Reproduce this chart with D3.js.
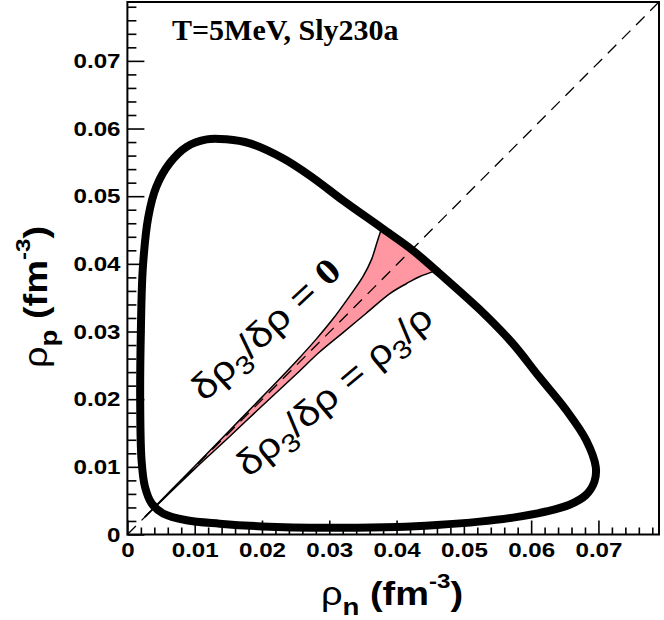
<!DOCTYPE html>
<html>
<head>
<meta charset="utf-8">
<script src="https://cdn.jsdelivr.net/npm/d3@7/dist/d3.min.js"></script>
<style>
  body { margin: 0; background: #fff; }
  #plot { width: 664px; height: 620px; }
</style>
</head>
<body>
<div id="plot"></div>
<script>
// spinodal contour at T=5 MeV, [rho_n, rho_p] in fm^-3
const spinodal = [
  [0.0118, 0.0584], [0.0147, 0.0584], [0.0182, 0.0578], [0.0231, 0.0556],
  [0.0276, 0.0527], [0.0320, 0.0494], [0.0378, 0.0453], [0.0424, 0.0420],
  [0.0459, 0.0390], [0.0474, 0.0377], [0.0523, 0.0333], [0.0572, 0.0283],
  [0.0612, 0.0233], [0.0652, 0.0184], [0.0682, 0.0139], [0.0696, 0.0100],
  [0.0694, 0.0078], [0.0681, 0.0058], [0.0657, 0.0044], [0.0622, 0.0034],
  [0.0573, 0.0025], [0.0523, 0.0019], [0.0460, 0.0014], [0.0400, 0.0011],
  [0.0300, 0.0010], [0.0200, 0.0012], [0.0137, 0.0016], [0.0088, 0.0021],
  [0.0053, 0.0031], [0.0036, 0.0046], [0.0026, 0.0071], [0.0021, 0.0110],
  [0.0019, 0.0200], [0.0020, 0.0300], [0.0023, 0.0395], [0.0031, 0.0469],
  [0.0043, 0.0514], [0.0063, 0.0549], [0.0088, 0.0573]
];

// d rho_3 / d rho = 0 branch
const branchZero = [
  [0.0026, 0.0026], [0.0100, 0.0101], [0.0150, 0.0152], [0.0200, 0.0203],
  [0.0250, 0.0255], [0.0280, 0.0288], [0.0305, 0.0318], [0.0330, 0.0352],
  [0.0350, 0.0381], [0.0363, 0.0407], [0.0371, 0.0432], [0.0378, 0.0453]
];

// d rho_3 / d rho = rho_3 / rho branch
const branchRatio = [
  [0.0026, 0.0026], [0.0100, 0.0097], [0.0150, 0.0143], [0.0200, 0.0190],
  [0.0250, 0.0236], [0.0286, 0.0270], [0.0320, 0.0298], [0.0355, 0.0327],
  [0.0390, 0.0356], [0.0415, 0.0371], [0.0434, 0.0381], [0.0459, 0.0390]
];

// spinodal points between the two branch ends (closes the shaded band)
const bandCap = [[0.0424, 0.0420]];

const majorTicks = [0, 0.01, 0.02, 0.03, 0.04, 0.05, 0.06, 0.07];
const minorTicks = [0.002, 0.004, 0.006, 0.008, 0.012, 0.014, 0.016, 0.018,
  0.022, 0.024, 0.026, 0.028, 0.032, 0.034, 0.036, 0.038, 0.042, 0.044, 0.046, 0.048,
  0.052, 0.054, 0.056, 0.058, 0.062, 0.064, 0.066, 0.068, 0.072, 0.074, 0.076, 0.078];
const tickLabels = ['0', '0.01', '0.02', '0.03', '0.04', '0.05', '0.06', '0.07'];

const W = 664, H = 620;
const box = { left: 127.4, right: 659, top: 2, bottom: 534.5 };
const stretch = 1.15;  // text in the original is drawn a bit wide

const svg = d3.select('#plot').append('svg').attr('width', W).attr('height', H);

const x = d3.scaleLinear().domain([0, 0.079]).range([box.left, box.right]);
const y = d3.scaleLinear().domain([0, 0.0787]).range([box.bottom, box.top]);

const line = d3.line().x(d => x(d[0])).y(d => y(d[1])).curve(d3.curveCatmullRom.alpha(0.5));
const closed = d3.line().x(d => x(d[0])).y(d => y(d[1])).curve(d3.curveCatmullRomClosed.alpha(0.5));

// shaded band between the two branches
const band = branchZero.concat(bandCap, branchRatio.slice().reverse());
svg.append('path')
  .attr('d', d3.line().x(d => x(d[0])).y(d => y(d[1])).curve(d3.curveLinear)(band))
  .attr('fill', '#ff97a2')
  .attr('stroke', 'none');

svg.append('path').attr('d', line(branchZero))
  .attr('fill', 'none').attr('stroke', '#000').attr('stroke-width', 1.5);
svg.append('path').attr('d', line(branchRatio))
  .attr('fill', 'none').attr('stroke', '#000').attr('stroke-width', 1.5);

// rho_p = rho_n diagonal
svg.append('line')
  .attr('x1', x(0)).attr('y1', y(0))
  .attr('x2', x(0.079)).attr('y2', y(0.0787))
  .attr('stroke', '#000').attr('stroke-width', 1.3)
  .attr('stroke-dasharray', '12,8');

svg.append('path').attr('d', closed(spinodal))
  .attr('fill', 'none').attr('stroke', '#000').attr('stroke-width', 8)
  .attr('stroke-linejoin', 'round');

// axes: ticks inside the frame
const fmt = d => tickLabels[majorTicks.indexOf(d)];

svg.append('g').attr('transform', `translate(0,${box.bottom})`)
  .call(d3.axisBottom(x).tickValues(majorTicks).tickSize(-14).tickPadding(8).tickFormat(fmt));
svg.append('g').attr('transform', `translate(0,${box.bottom})`)
  .call(d3.axisBottom(x).tickValues(minorTicks).tickSize(-7).tickFormat(''));
svg.append('g').attr('transform', `translate(${box.left},0)`)
  .call(d3.axisLeft(y).tickValues(majorTicks).tickSize(-17).tickPadding(6).tickFormat(fmt));
svg.append('g').attr('transform', `translate(${box.left},0)`)
  .call(d3.axisLeft(y).tickValues(minorTicks).tickSize(-9).tickFormat(''));

svg.selectAll('.domain').remove();
svg.selectAll('.tick line').attr('stroke', '#000').attr('stroke-width', 1.6);
svg.selectAll('.tick text')
  .attr('fill', '#000')
  .attr('transform', `scale(${stretch},1)`)
  .style('font-family', '"Liberation Sans", Arial, sans-serif')
  .style('font-size', '21px')
  .style('font-weight', 'bold');

svg.append('rect')
  .attr('x', box.left).attr('y', box.top)
  .attr('width', box.right - box.left).attr('height', box.bottom - box.top)
  .attr('fill', 'none').attr('stroke', '#000').attr('stroke-width', 2);

// title
svg.append('text')
  .attr('x', 172).attr('y', 40)
  .style('font-family', '"Liberation Serif", "Times New Roman", serif')
  .style('font-size', '30px')
  .style('font-weight', 'bold')
  .text('T=5MeV, Sly230a');

// axis titles: rho_sub (fm^-3)
function axisTitle(g, sub) {
  const t = g.append('text')
    .attr('text-anchor', 'middle')
    .attr('transform', `scale(${stretch},1)`)
    .style('font-family', '"Liberation Sans", Arial, sans-serif')
    .style('font-size', '33px')
    .style('font-weight', 'bold');
  t.append('tspan').style('font-weight', 'normal').text('ρ');
  t.append('tspan').attr('dy', 10).style('font-size', '24px').text(sub);
  t.append('tspan').attr('dy', -10).text(' (fm');
  t.append('tspan').attr('dy', -17).style('font-size', '21px').text('-3');
  t.append('tspan').attr('dy', 17).text(')');
}
axisTitle(svg.append('g').attr('transform', 'translate(392,605)'), 'n');
axisTitle(svg.append('g').attr('transform', 'translate(47,297) rotate(-90)'), 'p');

// rotated labels on the two branches
function branchLabel(cx, cy, angle, rhs) {
  const t = svg.append('g').attr('transform', `translate(${cx},${cy}) rotate(${angle})`)
    .append('text')
    .attr('text-anchor', 'middle')
    .attr('transform', `scale(${stretch},1)`)
    .style('font-family', '"Liberation Sans", Arial, sans-serif')
    .style('font-size', '36px');
  t.append('tspan').text('δρ');
  t.append('tspan').attr('dy', 9).style('font-size', '26px').text('3');
  t.append('tspan').attr('dy', -9).text('/δρ = ');
  rhs(t);
}
branchLabel(274, 338, -43, t => {
  t.append('tspan')
    .style('font-family', '"Liberation Serif", serif')
    .style('font-weight', 'bold')
    .text('0');
});
branchLabel(342, 400, -40, t => {
  t.append('tspan').text('ρ');
  t.append('tspan').attr('dy', 9).style('font-size', '26px').text('3');
  t.append('tspan').attr('dy', -9).text('/ρ');
});
</script>
</body>
</html>
